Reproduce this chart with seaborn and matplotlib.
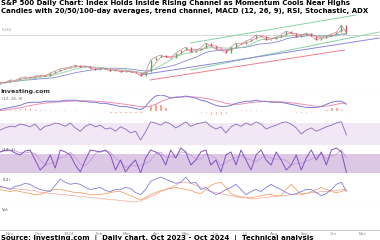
import numpy as np
import pandas as pd
import matplotlib
matplotlib.use("Agg")
import matplotlib.pyplot as plt
import seaborn as sns

sns.set_theme(style="white")
plt.rcParams["font.family"] = ["DejaVu Sans"]

# ---------------- data ----------------
start_date = "2023-10-21 12:00"
n_points = 70

close = [4250, 4268, 4325, 4318, 4375, 4402, 4371, 4425, 4450, 4428,
         4500, 4552, 4600, 4626, 4650, 4700, 4648, 4675, 4622, 4577,
         4625, 4601, 4550, 4574, 4524, 4551, 4527, 4500, 4425, 4526,
         4825, 4902, 4950, 4898, 4875, 5000, 5076, 5150, 5024, 5077,
         5125, 5250, 5174, 5101, 5075, 5000, 5151, 5250, 5226, 5300,
         5352, 5450, 5423, 5325, 5351, 5400, 5452, 5550, 5498, 5400,
         5451, 5500, 5424, 5325, 5376, 5425, 5474, 5525, 5700, 5500]

macd = [8, 16, 24, 32, 40, 56, 64, 64, 64, 72,
        72, 72, 72, 80, 80, 80, 72, 72, 64, 64,
        56, 56, 48, 40, 32, 32, 24, 16, 8, 32,
        80, 112, 120, 112, 96, 104, 104, 112, 104, 96,
        80, 72, 56, 40, 32, 32, 40, 56, 64, 72,
        72, 80, 72, 72, 64, 64, 64, 56, 48, 40,
        32, 24, 24, 24, 32, 48, 64, 72, 72, 48]
signal = [0, 4, 10, 16, 22, 30, 38, 46, 52, 58,
          62, 66, 68, 70, 72, 74, 75, 75, 74, 72,
          70, 67, 63, 58, 53, 48, 42, 36, 30, 28,
          34, 50, 68, 84, 96, 102, 105, 106, 106, 104,
          100, 94, 86, 76, 66, 56, 50, 48, 50, 56,
          62, 66, 68, 70, 70, 68, 66, 64, 60, 56,
          50, 44, 38, 34, 32, 34, 40, 48, 56, 58]

rsi = [57, 61, 64, 63, 68, 66, 63, 68, 57, 64,
       66, 70, 68, 64, 70, 61, 55, 64, 68, 63,
       66, 59, 61, 55, 63, 59, 52, 55, 39, 54,
       72, 70, 66, 72, 68, 61, 66, 72, 64, 68,
       70, 72, 64, 59, 63, 52, 63, 68, 64, 70,
       66, 72, 68, 59, 63, 66, 70, 72, 68, 61,
       50, 57, 61, 55, 59, 63, 66, 70, 72, 48]

stoch_k = [84, 92, 92, 80, 72, 88, 92, 52, 12, 32,
           72, 20, 92, 84, 72, 32, 4, 52, 92, 88,
           84, 92, 72, 12, 52, 4, 32, 52, 0, 60,
           92, 84, 72, 32, 92, 60, 100, 84, 32, 52,
           84, 92, 32, 52, 4, 72, 84, 32, 92, 52,
           12, 72, 92, 52, 32, 84, 52, 12, 32, 72,
           12, 60, 92, 52, 84, 32, 92, 100, 84, 2]

plus_di = [36, 34, 30, 36, 38, 42, 40, 34, 30, 28,
           26, 38, 50, 44, 40, 42, 40, 34, 30, 32,
           34, 28, 26, 30, 30, 34, 32, 24, 20, 30,
           46, 50, 54, 50, 46, 42, 44, 54, 42, 44,
           30, 34, 26, 20, 24, 30, 34, 40, 30, 20,
           26, 30, 26, 34, 40, 34, 30, 24, 20, 22,
           26, 30, 30, 24, 18, 22, 30, 40, 44, 26]
minus_di = [30, 28, 26, 28, 26, 24, 22, 20, 20, 24,
            28, 30, 30, 28, 26, 24, 24, 22, 20, 20,
            20, 22, 24, 26, 26, 22, 18, 14, 10, 14,
            20, 24, 28, 30, 32, 34, 32, 30, 28, 24,
            22, 30, 38, 42, 44, 34, 22, 18, 16, 14,
            14, 16, 18, 20, 20, 18, 18, 30, 40, 30,
            20, 22, 26, 30, 34, 30, 26, 24, 26, 30]
adx = [34, 34, 32, 32, 30, 30, 28, 28, 24, 24,
       22, 22, 20, 20, 18, 18, 16, 16, 14, 14,
       12, 12, 10, 10, 8, 8, 6, 6, 8, 12,
       16, 20, 26, 30, 34, 38, 44, 44, 42, 38,
       34, 30, 26, 24, 22, 20, 18, 16, 14, 14,
       12, 12, 14, 14, 16, 16, 18, 18, 20, 20,
       22, 22, 24, 24, 26, 26, 28, 28, 30, 30]

# trend lines: (dates, prices)
chan_up_dates = ["2024-05-06", "2024-10-25"]
chan_up_prices = [5250, 5950]
chan_lo_dates = ["2024-05-06", "2024-11-18"]
chan_lo_prices = [4575, 5525]
trend_purple_dates = ["2024-03-15", "2024-11-18"]
trend_purple_prices = [4450, 5375]
trend_red_dates = ["2024-03-25", "2024-10-13"]
trend_red_prices = [4325, 5075]
level_price = 5450

month_ticks = ["2023-11-01", "2023-12-01", "2024-01-01", "2024-02-01", "2024-03-01",
               "2024-04-01", "2024-05-01", "2024-06-01", "2024-07-01", "2024-08-01",
               "2024-09-01", "2024-10-01", "2024-11-01"]
month_labels = ["Nov", "Dec", "2024", "Feb", "Mar", "Apr", "May", "Jun", "Jul",
                "Aug", "Sep", "Oct", "Nov"]

title_1 = "S&P 500 Daily Chart: Index Holds Inside Rising Channel as Momentum Cools Near Highs"
title_2 = "Candles with 20/50/100-day averages, trend channel, MACD (12, 26, 9), RSI, Stochastic, ADX"
footer = "Source: Investing.com  |  Daily chart, Oct 2023 - Oct 2024  |  Technical analysis"

# ---------------- figure ----------------
W, H = 380, 240
fig = plt.figure(figsize=(W / 100, H / 100), dpi=100)
fig.patch.set_facecolor("white")

dates = pd.date_range(start_date, periods=n_points, freq="125h")
x0 = pd.Timestamp(start_date)
x1 = x0 + pd.Timedelta(days=380 / 0.964)


def panel(top, bottom):
    ax = fig.add_axes([0, 1 - bottom / H, 1, (bottom - top) / H])
    ax.set_xlim(x0, x1)
    ax.set_xticks([])
    ax.set_yticks([])
    for s in ["top", "left", "right"]:
        ax.spines[s].set_visible(False)
    ax.spines["bottom"].set_color("#cfcfcf")
    ax.spines["bottom"].set_linewidth(0.8)
    ax.set_facecolor("white")
    return ax


df = pd.DataFrame({"date": dates, "close": close, "macd": macd, "signal": signal,
                   "rsi": rsi, "k": stoch_k, "pdi": plus_di, "mdi": minus_di, "adx": adx})
df["open"] = df["close"].shift(1).fillna(4230)
df["ma_fast"] = df["close"].rolling(3, min_periods=1).mean()
df["ma_mid"] = df["close"].rolling(6, min_periods=1).mean()
df["ma_slow"] = df["close"].rolling(12, min_periods=1).mean()
df["hist"] = df["macd"] - df["signal"]
df["d"] = df["k"].rolling(3, min_periods=1).mean()

# ---- main price panel
ax = panel(15, 95)
ax.set_ylim(3950, 5950)
ax.axhline(level_price, color="#d8d8d8", lw=0.7)
for dd, pp, col in [(chan_up_dates, chan_up_prices, "#86d3a2"),
                    (chan_lo_dates, chan_lo_prices, "#86d3a2"),
                    (trend_purple_dates, trend_purple_prices, "#8c86e0"),
                    (trend_red_dates, trend_red_prices, "#ef7f8f")]:
    sns.lineplot(x=pd.to_datetime(dd), y=pp, ax=ax, color=col, lw=0.7)
sns.lineplot(data=df, x="date", y="ma_slow", ax=ax, color="#8c86e0", lw=0.6)
sns.lineplot(data=df, x="date", y="ma_mid", ax=ax, color="#86d3a2", lw=0.6)
sns.lineplot(data=df, x="date", y="ma_fast", ax=ax, color="#f08a9c", lw=0.6)
sns.lineplot(data=df, x="date", y="close", ax=ax, color="#c98a94", lw=0.5)
up = df["close"] >= df["open"]
ax.vlines(df["date"], df["open"], df["close"],
          colors=np.where(up, "#4fae6a", "#e0505f"), lw=1.0)
ax.set_xlabel(""); ax.set_ylabel("")
ax.text(0.004, 1 - 15 / 80, "5,450", transform=ax.transAxes, fontsize=2.5,
        color="#999999", va="center")

# ---- MACD
ax = panel(95, 121)
ax.set_ylim(-80, 120)
ax.bar(df["date"], df["hist"], width=2.5, bottom=0, color="#f08a6a", alpha=0.9)
sns.lineplot(data=df, x="date", y="signal", ax=ax, color="#ef8fae", lw=0.7)
sns.lineplot(data=df, x="date", y="macd", ax=ax, color="#7b78d8", lw=0.7)
ax.set_xlabel(""); ax.set_ylabel("")
ax.text(0.006, 0.84, "(12, 26, 9)", transform=ax.transAxes, fontsize=2.8,
        color="#666666", va="center")

# ---- RSI
ax = panel(121, 146)
ax.set_ylim(28.1, 73.6)
ax.axhspan(30, 70, color="#f2e7f4", lw=0)
sns.lineplot(data=df, x="date", y="rsi", ax=ax, color="#9a77c4", lw=0.7)
ax.set_xlabel(""); ax.set_ylabel("")

# ---- Stochastic
ax = panel(146, 173)
ax.set_ylim(0, 108)
ax.axhspan(-10, 76, color="#dcc7e5", lw=0)
sns.lineplot(data=df, x="date", y="d", ax=ax, color="#c79bdc", lw=0.6)
sns.lineplot(data=df, x="date", y="k", ax=ax, color="#8550c0", lw=0.7)
ax.set_xlabel(""); ax.set_ylabel("")
ax.text(0.006, 0.87, "(14, 3)", transform=ax.transAxes, fontsize=2.8,
        color="#555555", va="center")

# ---- ADX / DMI
ax = panel(173, 206)
ax.set_ylim(-2, 62)
sns.lineplot(data=df, x="date", y="adx", ax=ax, color="#f4b3a8", lw=0.6)
sns.lineplot(data=df, x="date", y="mdi", ax=ax, color="#f5a36a", lw=0.6)
sns.lineplot(data=df, x="date", y="pdi", ax=ax, color="#7e7ee0", lw=0.6)
ax.set_xlabel(""); ax.set_ylabel("")
ax.text(0.006, 0.8, "(14)", transform=ax.transAxes, fontsize=2.8,
        color="#555555", va="center")

# ---- empty bottom panel with dates
ax = panel(206, 230)
ax.set_ylim(0, 1)
ax.text(0.004, 0.85, "Vol:", transform=ax.transAxes, fontsize=2.8,
        color="#555555", va="center")
ax.set_xticks(pd.to_datetime(month_ticks))
ax.set_xticklabels(month_labels, fontsize=3, color="#888888")
ax.tick_params(axis="x", length=0, pad=1.2)
ax.set_xlim(x0, x1)

# ---- texts
fig.text(0.002, 1 - 91 / H, "Investing.com", fontsize=4.5, weight="bold",
         color="#333333", va="center")
fig.text(0.002, 1 - 0.5 / H, title_1, fontsize=5, weight="bold", color="black", va="top")
fig.text(0.002, 1 - 7.5 / H, title_2, fontsize=5, weight="bold", color="black", va="top")
fig.text(0.002, 1 - 234.5 / H, footer, fontsize=5, weight="bold", color="black", va="top")

fig.savefig("out.png", dpi=100, facecolor="white")
